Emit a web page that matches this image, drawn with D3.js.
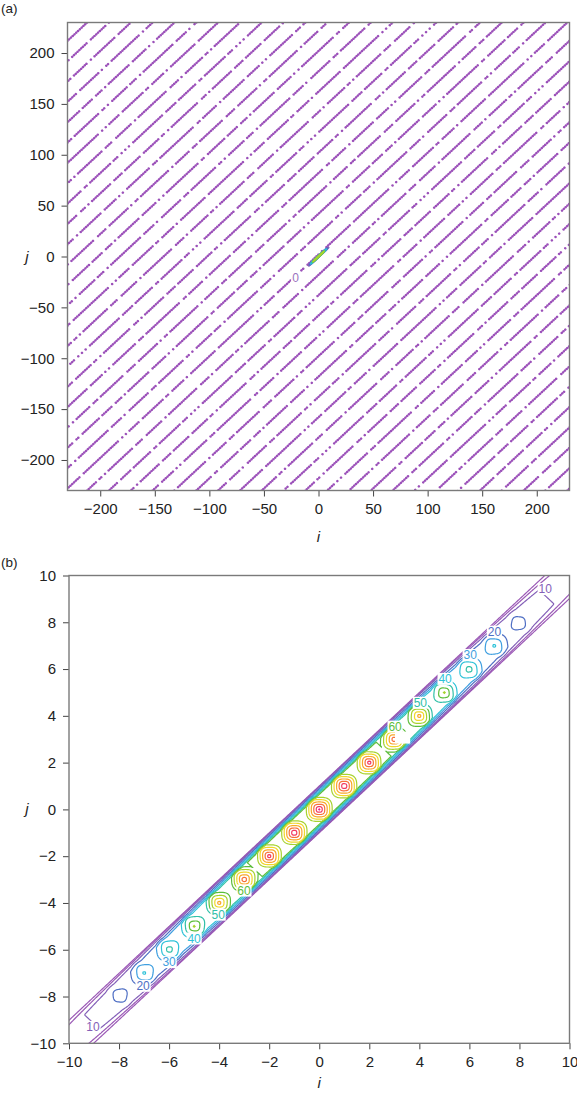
<!DOCTYPE html>
<html><head><meta charset="utf-8">
<script src="https://cdn.jsdelivr.net/npm/d3@7"></script>
<style>
body{margin:0;background:#fff}
text{font-family:"Liberation Sans",Arial,Helvetica,sans-serif}
</style>
</head><body>
<svg id="chart" width="577" height="1097" xmlns="http://www.w3.org/2000/svg"></svg>
<script>
// ---------------- data ----------------
// panel (a): offsets c of the diagonal level-0 contour lines  j = i + c
const lineOffsetsA = [-458,-438,-418,-398,-378,-358,-338,-318,-298,-278,-258,-238,-218,-198,-178,-158,-138,-118,-98,-78,-58,-38,-18,2,22,42,62,82,102,122,142,162,182,202,222,242,262,282,302,322,342,362,382,402,422,442];
const ticksA = [-200,-150,-100,-50,0,50,100,150,200];
const labelA = [{text:"0", i:-21, j:-21.3}];

// panel (b): peaks along the diagonal (k,k) and band plateau level along the diagonal
const peakPos    = [-8,-7,-6,-5,-4,-3,-2,-1,0,1,2,3,4,5,6,7,8];
const peakHeight = [25,42,55,72,95,108,116,120,122,120,116,108,95,72,55,42,25];
const bandPos    = [-10,-9,-8,-7,-6,-5,-4,-3,-2,-1,0,1,2,3,4,5,6,7,8,9,10];
const bandLevel  = [6,10.5,14,21,30,40,50,58,63,66,67,66,63,58,50,40,30,21,14,10.5,6];
const ticksB = [-10,-8,-6,-4,-2,0,2,4,6,8,10];
const contourLevels = [0,4,10,20,30,40,50,60,70,80,90,100,110,120];
const levelColors = ["#9b59b6","#9b59b6","#8460b8","#4f6fc4","#3f9fe0","#2ec2d8","#30c0a8","#5cbd3c","#a6d22e","#f0d82a","#f9a72a","#f7703a","#f23a62","#ec1f8e"];
const labelsB = [
  {text:"10", level:10, i:-9.04, j:-9.3},
  {text:"10", level:10, i:9.03,  j:9.42},
  {text:"20", level:20, i:-7.04, j:-7.54},
  {text:"20", level:20, i:7.0,   j:7.6},
  {text:"30", level:30, i:-6.0,  j:-6.53},
  {text:"30", level:30, i:6.03,  j:6.6},
  {text:"40", level:40, i:-5.0,  j:-5.52},
  {text:"40", level:40, i:5.03,  j:5.58},
  {text:"50", level:50, i:-4.04, j:-4.5},
  {text:"50", level:50, i:4.04,  j:4.56},
  {text:"60", level:60, i:-3.01, j:-3.47},
  {text:"60", level:60, i:3.03,  j:3.54},
  {text:"",   level:70, i:3.33,  j:3.07}
];

// ---------------- layout ----------------
const svg = d3.select("#chart");
const xA = d3.scaleLinear([-230,230],[67.5,569.5]);
const yA = d3.scaleLinear([-230,230],[490.5,22.5]);
const xB = d3.scaleLinear([-10,10],[69,569.5]);
const yB = d3.scaleLinear([-10,10],[1043.3,575.5]);
const purple = "#9b50b9";

const defs = svg.append("defs");
defs.append("clipPath").attr("id","clipA").append("rect")
  .attr("x",xA.range()[0]).attr("y",yA.range()[1])
  .attr("width",xA.range()[1]-xA.range()[0]).attr("height",yA.range()[0]-yA.range()[1]);
defs.append("clipPath").attr("id","clipB").append("rect")
  .attr("x",xB.range()[0]).attr("y",yB.range()[1])
  .attr("width",xB.range()[1]-xB.range()[0]).attr("height",yB.range()[0]-yB.range()[1]);

// ---------------- field for panel (b) ----------------
const bandInterp = d3.interpolateBasis(bandLevel);
function bandAmp(u){
  const t = (u - bandPos[0])/(bandPos[bandPos.length-1]-bandPos[0]);
  return bandInterp(Math.max(0,Math.min(1,t)));
}
function bandProfile(v){
  const a = Math.abs(v);
  if (a >= 1) return 0;
  if (a <= 0.6) return 1;
  return (1 - a)/0.4;
}
const R = 0.55;
const peakH = peakPos.map((k,idx)=> peakHeight[idx] - bandAmp(k));
function field(i,j){
  const u = (i+j)/2, v = j - i;
  let f = bandAmp(u)*bandProfile(v);
  for (let p=0;p<peakPos.length;p++){
    const di = Math.abs(i-peakPos[p]), dj = Math.abs(j-peakPos[p]);
    if (di>=R || dj>=R) continue;
    const rp = Math.cbrt(di*di*di + dj*dj*dj);
    if (rp<R) f += peakH[p]*(1 - rp/R);
  }
  return f;
}
const lo = -10.6, hi = 10.6, step = 0.04;
const n = Math.round((hi-lo)/step)+1;
const values = new Float64Array(n*n);
for (let gy=0; gy<n; gy++){
  const j = hi - gy*step;
  for (let gx=0; gx<n; gx++){
    values[gy*n+gx] = field(lo + gx*step, j);
  }
}
const thresholds = contourLevels.map(l => Math.max(l,0.3));
const contours = d3.contours().size([n,n]).thresholds(thresholds)(values);

function makePath(xs, ys){
  return d3.geoPath(d3.geoTransform({
    point: function(x,y){
      this.stream.point(xs(lo + (x-0.5)*step), ys(hi - (y-0.5)*step));
    }
  }));
}

// ---------------- panel (a) ----------------
const gA = svg.append("g");
// run/gap styles for the beaded contour fragments: [beads in run, gap to next run in px]
const beadPatterns = [
  [[14,6],[2,5],[1,6],[9,5],[4,6],[1,5],[17,6],[6,5],[1,7],[11,6],[3,5]],
  [[7,5],[1,5],[1,6],[13,6],[3,5],[19,7],[2,5],[8,6],[1,5],[12,6]],
  [[16,7],[5,5],[1,6],[10,5],[2,5],[1,5],[14,6],[4,7],[9,6],[1,5]],
  [[4,5],[1,5],[12,6],[8,5],[1,6],[1,5],[18,6],[2,6],[10,5],[6,6]],
  [[9,6],[9,5],[2,6],[1,5],[15,7],[3,5],[1,5],[11,6],[5,5]],
  [[20,6],[1,5],[1,5],[6,6],[12,5],[2,6],[7,5],[1,6],[14,6]],
  [[5,6],[11,5],[1,6],[2,5],[16,6],[1,5],[8,6],[3,5],[13,7]],
  [[12,5],[3,6],[1,5],[1,5],[1,6],[17,6],[6,5],[10,6],[2,5]]
];
const beadGap = 2.45;
const dashStrings = beadPatterns.map(pat=>{
  const arr=[];
  pat.forEach(([nb,g])=>{ for(let b=0;b<nb-1;b++){arr.push(0.01, beadGap-0.01);} arr.push(0.01, g-0.01); });
  return {s:arr.map(d=>d.toFixed(2)).join(" "), len:d3.sum(arr)};
});
const lineGen = d3.line().x(d=>xA(d[0])).y(d=>yA(d[1]));
const beadG = gA.append("g").attr("clip-path","url(#clipA)");
lineOffsetsA.forEach((c,idx)=>{
  const i0 = Math.max(-235, -235 - c), i1 = Math.min(235, 235 - c);
  if (i1 <= i0) return;
  const ds = dashStrings[(idx*3) % dashStrings.length];
  beadG.append("path")
    .attr("d", lineGen([[i0,i0+c],[i1,i1+c]]))
    .attr("fill","none").attr("stroke",purple).attr("stroke-width",2.5)
    .attr("stroke-linecap","round")
    .attr("stroke-dasharray", ds.s)
    .attr("stroke-dashoffset", (idx*71) % ds.len);
});
// central coloured part of panel (a): the same contours seen at the large scale
const pathA = makePath(xA, yA);
const overlayA = gA.append("g").attr("clip-path","url(#clipA)");
contours.forEach((ct,idx)=>{
  const lvl = contourLevels[idx];
  if (lvl < 10 || lvl > 70) return;
  overlayA.append("path").attr("d", pathA(ct))
    .attr("fill","none").attr("stroke",levelColors[idx]).attr("stroke-width",1.6);
});
labelA.forEach(l=>{
  gA.append("rect").attr("x",xA(l.i)-4.5).attr("y",yA(l.j)-6.5).attr("width",9).attr("height",13).attr("fill","#fff");
  gA.append("text").attr("x",xA(l.i)).attr("y",yA(l.j)).attr("dy","0.35em")
    .attr("text-anchor","middle").attr("font-size",12).attr("fill","#9a72c0").text(l.text);
});

// ---------------- panel (b) ----------------
const gB = svg.append("g");
const pathB = makePath(xB, yB);
const cg = gB.append("g").attr("clip-path","url(#clipB)");
contours.forEach((ct,idx)=>{
  cg.append("path").attr("d", pathB(ct))
    .attr("fill","none").attr("stroke",levelColors[idx]).attr("stroke-width",1.2);
});
labelsB.forEach(l=>{
  const li = contourLevels.indexOf(l.level);
  const w = Math.max(l.text.length,2)*6.6 + 2;
  gB.append("rect").attr("x",xB(l.i)-w/2).attr("y",yB(l.j)-6).attr("width",w).attr("height",12).attr("fill","#fff");
  if (l.text) gB.append("text").attr("x",xB(l.i)).attr("y",yB(l.j)).attr("dy","0.35em")
    .attr("text-anchor","middle").attr("font-size",12).attr("fill",levelColors[li]).text(l.text);
});

// ---------------- axes ----------------
function drawAxes(x, y, ticks){
  const g = svg.append("g");
  const [x0,x1] = x.range(), [y0,y1] = y.range();
  const ax = g.append("g").attr("transform",`translate(0,${y0})`)
    .call(d3.axisBottom(x).tickValues(ticks).tickSize(6).tickSizeOuter(0).tickPadding(7));
  const ay = g.append("g").attr("transform",`translate(${x0},0)`)
    .call(d3.axisLeft(y).tickValues(ticks).tickSize(6).tickSizeOuter(0).tickPadding(7));
  [ax,ay].forEach(a=>{
    a.select(".domain").remove();
    a.selectAll(".tick line").attr("stroke","#444").attr("stroke-width",1);
    a.selectAll(".tick text").attr("font-size",15).attr("fill","#222")
      .style("font-family",'"Liberation Sans",Arial,Helvetica,sans-serif');
  });
  g.append("rect").attr("x",x0).attr("y",y1).attr("width",x1-x0).attr("height",y0-y1)
    .attr("fill","none").attr("stroke","#7a7a7a").attr("stroke-width",1.4);
  return g;
}
drawAxes(xA, yA, ticksA);
drawAxes(xB, yB, ticksB);

// titles
function title(x,y,t,italic,size){
  svg.append("text").attr("x",x).attr("y",y).attr("text-anchor", italic?"middle":"start")
    .attr("font-size",size).attr("font-style",italic?"italic":"normal").attr("fill","#222").text(t);
}
title(1,13,"(a)",false,13.5);
title(1,567,"(b)",false,13.5);
title(xA(0),542,"i",true,15);
title(xB(0),1088,"i",true,15);
title(27,yA(0)+5,"j",true,15);
title(27,yB(0)+5,"j",true,15);
</script>
</body></html>
